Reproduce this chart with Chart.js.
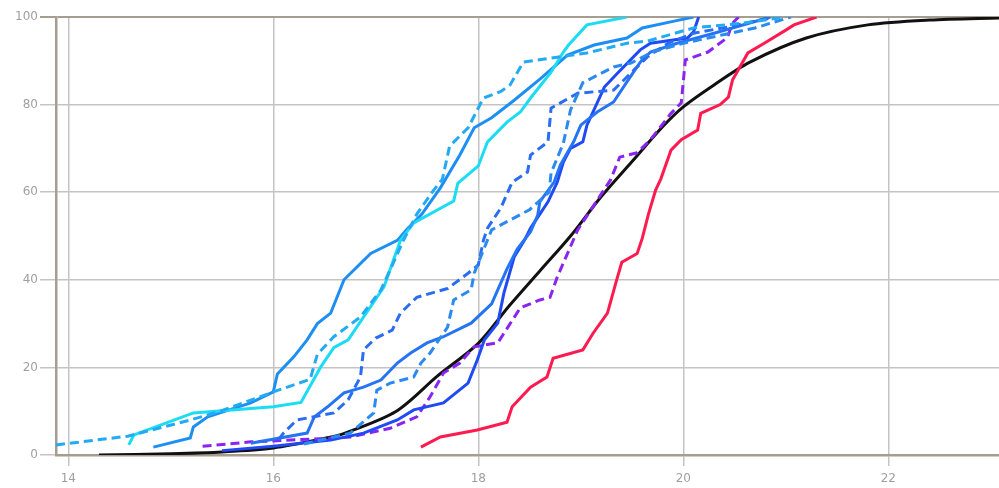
<!DOCTYPE html>
<html>
<head>
<meta charset="utf-8">
<script src="https://cdn.jsdelivr.net/npm/chart.js@4.4.1/dist/chart.umd.min.js"></script>
<style>
  html, body { margin: 0; padding: 0; background: #fff; }
  #wrap { width: 999px; height: 488px; }
</style>
</head>
<body>
<div id="wrap"><canvas id="myChart" width="999" height="488"></canvas></div>
<script>
var xTicks = [14, 16, 18, 20, 22];
var yTicks = [0, 20, 40, 60, 80, 100];

var blackX = [14.3, 15.0, 15.5, 16.0, 16.5, 16.7, 17.2, 17.6, 18.0, 18.3, 18.6, 18.9, 19.2, 19.5, 19.8, 20.0, 20.3, 20.65, 21.2, 21.8, 22.4, 23.1];
var blackY = [0, 0.3, 0.7, 1.6, 3.8, 5, 10, 18, 25.5, 34, 42, 50, 59, 67, 75, 79.5, 84.5, 89.7, 95.2, 98.2, 99.3, 99.8];

var redX = [17.44, 17.63, 17.99, 18.28, 18.33, 18.51, 18.67, 18.73, 19.02, 19.12, 19.26, 19.35, 19.4, 19.55, 19.6, 19.66, 19.73, 19.78, 19.88, 19.98, 20.14, 20.17, 20.36, 20.44, 20.48, 20.63, 20.79, 21.0, 21.08, 21.3];
var redY = [1.8, 4.1, 5.7, 7.5, 11, 15.5, 17.8, 22.1, 24, 27.8, 32.4, 40, 44, 46, 49.5, 55, 60.5, 63, 69.6, 72, 74.2, 78, 80, 81.7, 85.6, 91.8, 94, 97, 98.2, 100];

var purpleX = [15.31, 15.78, 16.17, 16.75, 17.14, 17.4, 17.53, 17.66, 17.82, 17.96, 18.19, 18.41, 18.6, 18.7, 18.77, 18.97, 19.29, 19.38, 19.55, 19.68, 19.88, 19.98, 20.02, 20.24, 20.43, 20.48, 20.54];
var purpleY = [2, 3, 3.4, 4.1, 6.1, 8.7, 13.3, 18.7, 21, 24.7, 25.6, 33.6, 35.4, 36, 40.6, 51.4, 62.8, 68, 69, 72, 78, 80.4, 90.2, 92, 95.3, 98.6, 100];

var cyanX = [14.59, 14.64, 15.22, 16.0, 16.27, 16.46, 16.59, 16.73, 17.08, 17.24, 17.37, 17.76, 17.8, 18.0, 18.09, 18.28, 18.41, 18.51, 18.71, 18.83, 18.88, 19.06, 19.45];
var cyanY = [2.3, 4.6, 9.6, 11, 12, 20, 24.5, 26.3, 38.4, 49, 53, 58, 62, 66, 71.5, 76, 78.3, 81.5, 87.4, 92, 93.6, 98.2, 100];

var skyX = [13.88, 14.58, 15.19, 15.46, 16.0, 16.36, 16.43, 16.59, 16.85, 17.05, 17.17, 17.27, 17.4, 17.55, 17.65, 17.72, 17.9, 18.05, 18.22, 18.31, 18.44, 18.71, 19.06, 19.45, 19.65, 20.1, 20.58, 21.0];
var skyY = [2.3, 4.3, 8, 9.8, 14.4, 17.3, 23, 27, 31.5, 37.7, 43.8, 49, 55, 60, 63, 70.5, 74.7, 81.5, 83, 84.5, 89.7, 90.6, 91.8, 94, 94.5, 97.5, 98.6, 100];

var midX = [14.83, 15.19, 15.22, 15.36, 15.78, 16.0, 16.04, 16.2, 16.33, 16.43, 16.56, 16.69, 16.95, 17.21, 17.3, 17.45, 17.63, 17.82, 17.96, 18.13, 18.35, 18.61, 18.87, 19.13, 19.45, 19.6, 19.9, 20.1];
var midY = [1.8, 3.9, 6.4, 8.7, 11.9, 14.4, 18.5, 22.4, 26.3, 30, 32.4, 40, 46, 49, 51.4, 55, 61, 68.5, 74.7, 77, 81, 86, 91.3, 93.6, 95.2, 97.5, 99, 100];

var dashAX = [16.05, 16.1, 16.23, 16.59, 16.73, 16.85, 16.88, 17.0, 17.16, 17.24, 17.4, 17.7, 17.9, 18.0, 18.05, 18.09, 18.22, 18.33, 18.48, 18.51, 18.68, 18.71, 18.97, 19.32, 19.45, 19.65, 19.85, 20.1, 20.43, 20.75, 20.9];
var dashAY = [3.5, 5, 8, 9.6, 12.6, 17.8, 24, 26.7, 28.5, 32.4, 36, 38, 41.5, 43.4, 49, 51.8, 56.4, 62.3, 64.6, 68.5, 71.5, 79.2, 82.6, 83.3, 86.3, 90.9, 94, 96.3, 97.7, 99.3, 100];

var dashBX = [16.3, 16.75, 16.98, 17.01, 17.14, 17.37, 17.44, 17.53, 17.7, 17.76, 17.93, 17.96, 18.05, 18.13, 18.5, 18.69, 18.71, 18.83, 18.9, 19.02, 19.32, 19.49, 19.7, 20.0, 20.4, 20.7, 21.05];
var dashBY = [2.5, 5, 9.6, 14.8, 16.4, 17.8, 21, 23.3, 29.2, 35.4, 37.7, 41.5, 46.8, 51.4, 56, 60, 64.4, 71.2, 78.8, 85, 88.6, 89.5, 92, 94, 96, 97.5, 100];

var solidEX = [15.78, 16.33, 16.4, 16.53, 16.69, 16.88, 17.05, 17.21, 17.34, 17.5, 17.66, 17.93, 18.13, 18.19, 18.28, 18.38, 18.51, 18.58, 18.6, 18.74, 18.8, 18.93, 19.0, 19.16, 19.32, 19.45, 19.58, 19.68, 19.94, 20.3, 20.75, 20.85];
var solidEY = [2.7, 5, 8.7, 11, 14.2, 15.5, 17.1, 21, 23.3, 25.6, 27, 30.1, 34.5, 37.7, 42.5, 47, 51, 54.8, 57.8, 62.3, 66.2, 71.5, 75.3, 78.3, 80.6, 85.2, 89.7, 92, 94, 96.3, 99.3, 100];

var solidFX = [15.5, 16.0, 16.56, 16.88, 17.21, 17.37, 17.66, 17.9, 17.99, 18.06, 18.19, 18.25, 18.35, 18.45, 18.51, 18.68, 18.77, 18.83, 18.9, 19.02, 19.06, 19.23, 19.36, 19.58, 19.68, 20.04, 20.1, 20.15];
var solidFY = [1, 2, 3.4, 5, 8, 10.3, 11.9, 16.4, 21.7, 26.3, 30.1, 37, 45.2, 49, 51.8, 57.8, 62.3, 66.9, 70, 71.5, 75.3, 84, 87.2, 92.5, 94, 95.2, 96.6, 100];

function toPoints(xs, ys) {

  var pts = [];

  for (var i = 0; i < xs.length; i++) {

    pts.push({ x: xs[i], y: ys[i] });
  }

  return pts;
}

function line(xs, ys, color, dashed) {

  return {
    data: toPoints(xs, ys),
    borderColor: color,
    borderWidth: 3,
    borderDash: dashed ? [9, 5] : [],
    pointRadius: 0,
    fill: false,
    tension: 0
  };
}

function drawChart() {

  var black = line(blackX, blackY, "#111111", false);
  black.tension = 0.3;

  var datasets = [
    line(skyX, skyY, "#22aaf5", true),
    line(cyanX, cyanY, "#1cdcf4", false),
    line(midX, midY, "#1e8ff2", false),
    line(dashBX, dashBY, "#2a8af0", true),
    line(dashAX, dashAY, "#2a6cf2", true),
    line(solidEX, solidEY, "#2474f4", false),
    line(solidFX, solidFY, "#1f4af5", false),
    line(purpleX, purpleY, "#8a24f0", true),
    line(redX, redY, "#ff1a4f", false),
    black
  ];

  var gridGray = "#c4c4c4";
  var axisBrown = "#a59d90";
  var tickFont = { family: "DejaVu Sans", size: 12 };

  var ctx = document.getElementById("myChart");
  var myChart = new Chart(ctx, {
    type: 'line',
    data: { datasets: datasets },
    options: {
      responsive: false,
      animation: false,
      layout: { padding: { top: 17, right: 0, left: 0, bottom: 0 } },
      plugins: { legend: { display: false }, tooltip: { enabled: false } },
      scales: {
        x: {
          type: 'linear',
          min: 13.88,
          max: 23.08,
          afterBuildTicks: function(axis) {
            axis.ticks = xTicks.map(function(v) { return { value: v }; });
          },
          afterFit: function(axis) { axis.height = 33; },
          grid: { color: gridGray, lineWidth: 1.5, tickLength: 11 },
          border: { color: axisBrown, width: 2.5 },
          ticks: { color: "#a0a0a0", font: tickFont, padding: 6, maxRotation: 0 }
        },
        y: {
          type: 'linear',
          min: 0,
          max: 100,
          afterBuildTicks: function(axis) {
            axis.ticks = yTicks.map(function(v) { return { value: v }; });
          },
          afterFit: function(axis) { axis.width = 56; },
          grid: {
            color: function(c) { return c.tick && c.tick.value == 100 ? axisBrown : gridGray; },
            lineWidth: function(c) { return c.tick && c.tick.value == 100 ? 2 : 1.5; },
            tickLength: 16
          },
          border: { color: axisBrown, width: 2.5 },
          ticks: { color: "#a0a0a0", font: tickFont, padding: 2 }
        }
      }
    }
  });
}

drawChart();
</script>
</body>
</html>
